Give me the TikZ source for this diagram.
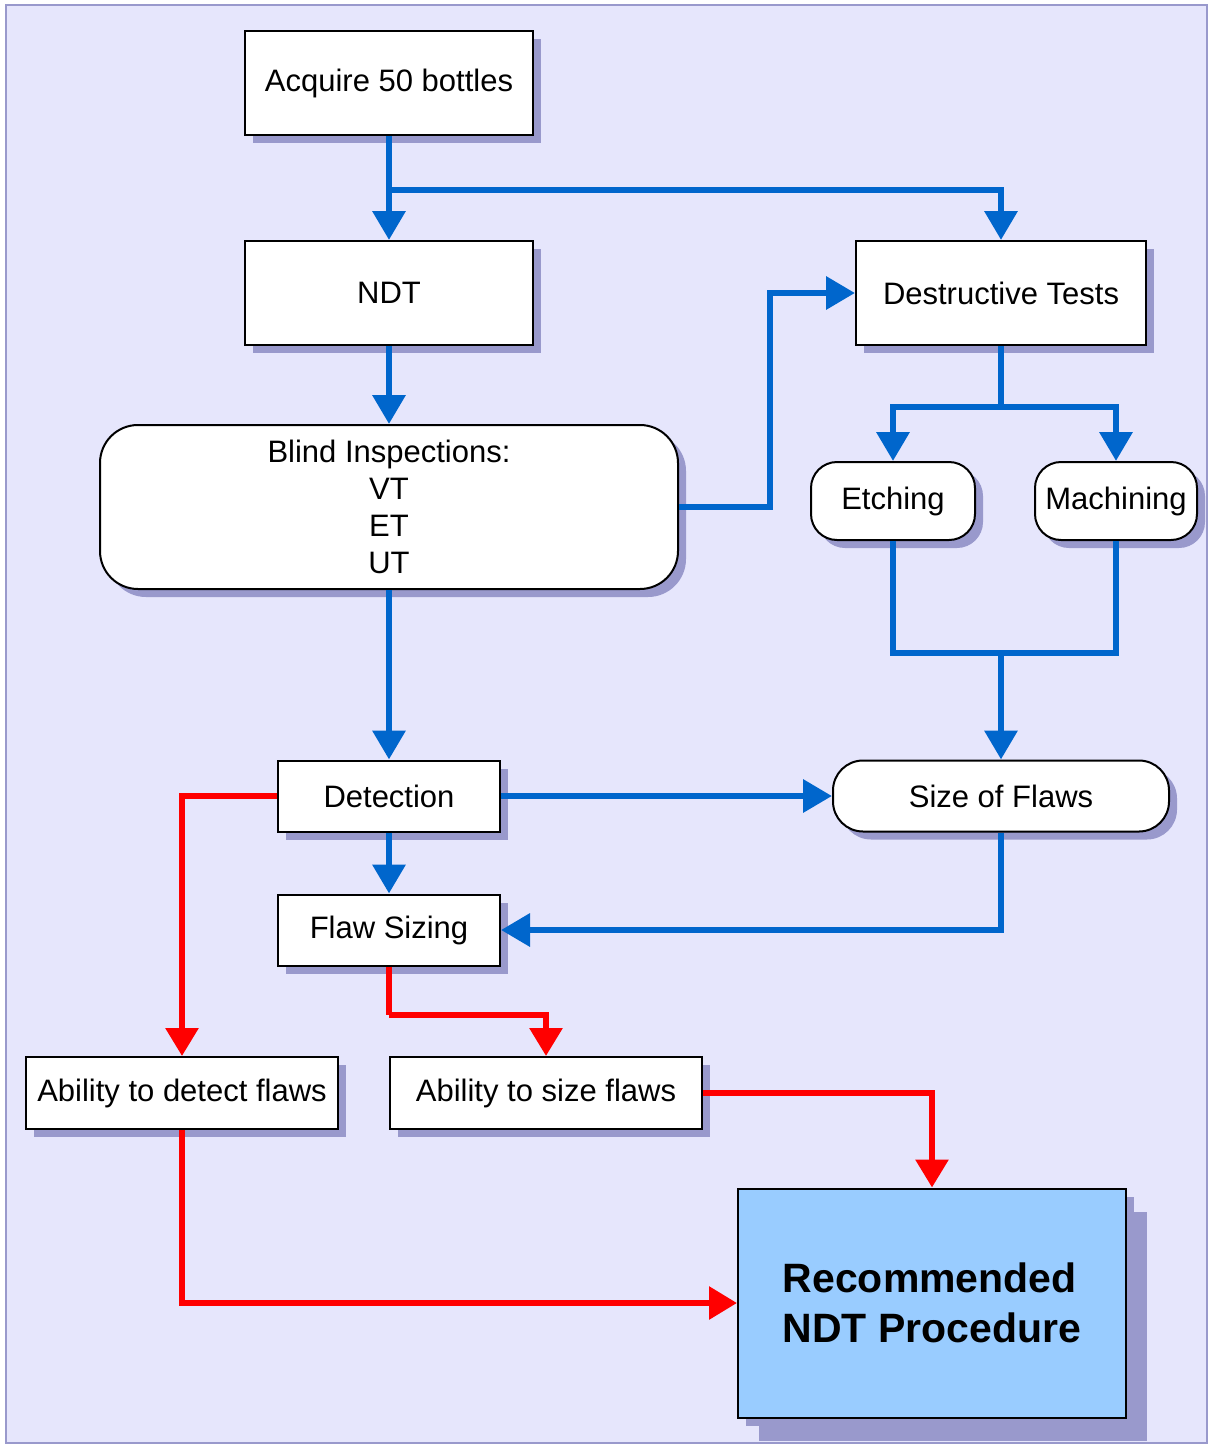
\documentclass[tikz,border=0pt]{standalone}
\usepackage{fontspec}
\setmainfont{Liberation Sans}
\usetikzlibrary{arrows.meta,shadows}
\definecolor{bgc}{RGB}{230,230,252}
\definecolor{shc}{RGB}{153,153,204}
\definecolor{bluec}{RGB}{0,102,204}
\definecolor{redc}{RGB}{255,0,0}
\definecolor{recfill}{RGB}{153,204,255}
\begin{document}
\begin{tikzpicture}[x=1pt,y=-1pt,
  base/.style={draw=black, line width=2pt, fill=white, inner sep=0pt, align=center,
    font=\fontsize{31}{37}\selectfont,
    drop shadow={shadow xshift=8pt, shadow yshift=-8pt, fill=shc, opacity=1}},
  boxn/.style={base, rectangle},
  roundn/.style={base, rectangle, rounded corners=#1},
  bline/.style={draw=bluec, line width=6.5pt},
  barrow/.style={bline, -{Triangle[length=29pt,width=32pt]}},
  rline/.style={draw=redc, line width=6pt},
  rarrow/.style={rline, -{Triangle[length=28pt,width=32pt]}},
  line join=miter
]
\useasboundingbox (0,0) rectangle (1209,1445);
\fill[white] (0,0) rectangle (1209,1445);
\draw[draw=shc, fill=bgc, line width=2pt] (6,5) rectangle (1207,1443);

% nodes
\node[boxn, minimum width=288pt, minimum height=104pt] (acq) at (389,83) {Acquire 50 bottles};
\node[boxn, minimum width=288pt, minimum height=104pt] (ndt) at (389,293) {NDT};
\node[boxn, minimum width=290pt, minimum height=104pt] (dt) at (1001,293) {Destructive Tests};
\node[roundn=38pt, minimum width=578pt, minimum height=164pt] (blind) at (389,507)
  {Blind Inspections:\\VT\\ET\\UT};
\node[roundn=26pt, minimum width=164pt, minimum height=78pt] (etch) at (893,501) {Etching};
\node[roundn=26pt, minimum width=162pt, minimum height=78pt] (mach) at (1116,501) {Machining};
\node[boxn, minimum width=222pt, minimum height=71pt] (det) at (389,796) {Detection};
\node[roundn=30pt, minimum width=336pt, minimum height=71pt] (sof) at (1001,796) {Size of Flaws};
\node[boxn, minimum width=222pt, minimum height=71pt] (fs) at (389,930) {Flaw Sizing};
\node[boxn, minimum width=312pt, minimum height=72pt] (abd) at (182,1093) {Ability to detect flaws};
\node[boxn, minimum width=312pt, minimum height=72pt] (abs) at (546,1093) {Ability to size flaws};
\node[boxn, fill=recfill, minimum width=388pt, minimum height=229pt, align=left,
  font=\fontsize{41}{50}\selectfont\bfseries,
  drop shadow={shadow xshift=21pt, shadow yshift=-23pt, fill=shc, opacity=1}] (rec) at (932,1303)
  {Recommended\\NDT Procedure};

% coordinates
\coordinate (br1) at (389,190);
\coordinate (c1) at (770,293);
\coordinate (split) at (1001,407);
\coordinate (merge) at (1001,653);
\coordinate (rc) at (389,1015);

% blue connectors
\draw[barrow] (acq.south) -- (ndt.north);
\draw[barrow] (br1) -| (dt.north);
\draw[barrow] (ndt.south) -- (blind.north);
\draw[barrow] (blind.east) -| (c1) |- (dt.west);
\draw[bline] (dt.south) -- (split);
\draw[barrow] (split) -| (etch.north);
\draw[barrow] (split) -| (mach.north);
\draw[bline] (etch.south) |- (merge) -| (mach.south);
\draw[barrow] (merge) -- (sof.north);
\draw[barrow] (blind.south) -- (det.north);
\draw[barrow] (det.east) -- (sof.west);
\draw[barrow] (det.south) -- (fs.north);
\draw[barrow] (sof.south) |- (fs.east);

% red connectors
\draw[rarrow] (det.west) -| (abd.north);
\draw[rline] (fs.south) -- (rc);
\draw[rarrow] (rc) -| (abs.north);
\draw[rarrow] (abs.east) -| (rec.north);
\draw[rarrow] (abd.south) |- (rec.west);
\end{tikzpicture}
\end{document}
